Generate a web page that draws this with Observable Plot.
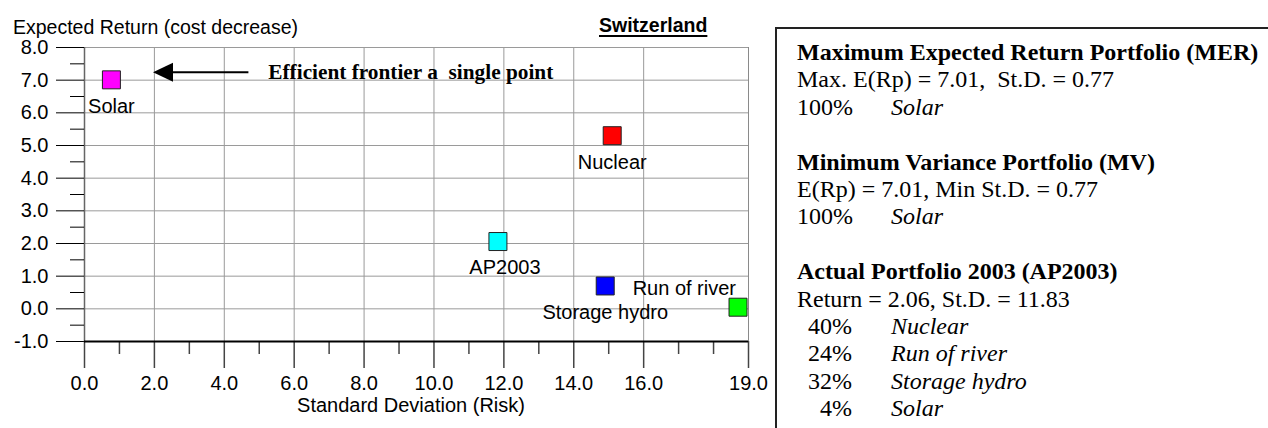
<!DOCTYPE html>
<html>
<head>
<meta charset="utf-8">
<script src="https://cdn.jsdelivr.net/npm/d3@7"></script>
<script src="https://cdn.jsdelivr.net/npm/@observablehq/plot@0.6"></script>
<style>
  html, body { margin: 0; padding: 0; background: white; }
  #wrap { position: relative; width: 1268px; height: 428px; overflow: hidden; background: white; }
  #chart { position: absolute; left: 0; top: 0; }
  .sans { font-family: "Liberation Sans", Arial, sans-serif; color: #000; position: absolute; white-space: pre; }
  #ytitle { left: 13px; top: 17px; font-size: 19.5px; line-height: 20px; }
  #country { left: 599px; top: 15px; font-size: 19.5px; line-height: 20px; font-weight: bold; text-decoration: underline; text-decoration-thickness: 2px; text-underline-offset: 3px; }
  #xtitle { left: 0; width: 822px; text-align: center; top: 395px; font-size: 20px; line-height: 20px; }
  #box { position: absolute; left: 775px; top: 27px; width: 520px; height: 420px; border-top: 2px solid #222; border-left: 2px solid #222; box-sizing: border-box; padding-left: 20px; padding-top: 10px; font-family: "Liberation Serif", "Times New Roman", serif; font-size: 24px; color: #000; }
  #box .ln { height: 27.4px; line-height: 27.4px; white-space: pre; }
  #box .hd { font-weight: bold; }
  #box .pc { display: inline-block; width: 55px; text-align: right; }
  #box .nm { font-style: italic; margin-left: 39px; }
</style>
</head>
<body>
<div id="wrap">
  <div id="chart"></div>
  <div class="sans" id="ytitle">Expected Return (cost decrease)</div>
  <div class="sans" id="country">Switzerland</div>
  <div class="sans" id="xtitle">Standard Deviation (Risk)</div>
  <div id="box"></div>
</div>
<script>
// ---- data ----
const technologies = ["Solar", "Nuclear", "AP2003", "Storage hydro", "Run of river"];
const stdDev       = [0.77, 15.1, 11.83, 14.9, 18.7];
const expReturn    = [7.01, 5.3, 2.06, 0.70, 0.05];

const xMajorTicks = [0, 2, 4, 6, 8, 10, 12, 14, 16, 19];
const xMinorTicks = [1, 3, 5, 7, 9, 11, 13, 15, 17, 18];
const xGridLines  = [2, 4, 6, 8, 10, 12, 14, 16];
const yMajorTicks = [-1, 0, 1, 2, 3, 4, 5, 6, 7, 8];
const yMinorTicks = [-0.5, 0.5, 1.5, 2.5, 3.5, 4.5, 5.5, 6.5, 7.5];

const noteText  = ["Efficient frontier a\u00a0 single point"];
const noteAt    = [5.26, 7.24];
const arrowFrom = [4.69, 7.24];
const arrowTo   = [1.96, 7.24];

const merTitle = "Maximum Expected Return Portfolio (MER)";
const merLine  = "Max. E(Rp) = 7.01,  St.D. = 0.77";
const merMix   = [["100%", "Solar"]];
const mvTitle  = "Minimum Variance Portfolio (MV)";
const mvLine   = "E(Rp) = 7.01, Min St.D. = 0.77";
const mvMix    = [["100%", "Solar"]];
const apTitle  = "Actual Portfolio 2003 (AP2003)";
const apLine   = "Return = 2.06, St.D. = 11.83";
const apMix    = [["40%", "Nuclear"], ["24%", "Run of river"], ["32%", "Storage hydro"], ["4%", "Solar"]];

// ---- build ----
const points = technologies.map((name, i) => ({name, x: stdDev[i], y: expReturn[i]}));
const below = points.filter(d => d.name !== "Run of river" && d.name !== "AP2003");
const fmt1 = d => d.toFixed(1);

const arrowHead = {
  draw(ctx) {
    ctx.moveTo(0, 0);
    ctx.lineTo(20, -9.5);
    ctx.lineTo(20, 9.5);
    ctx.closePath();
  }
};

const chart = Plot.plot({
  width: 1268,
  height: 428,
  marginLeft: 84,
  marginRight: 520,
  marginTop: 47,
  marginBottom: 87,
  style: {fontFamily: "'Liberation Sans', Arial, sans-serif", fontSize: "20px", background: "white", color: "black", overflow: "visible"},
  x: {domain: [0, 19]},
  y: {domain: [-1, 8]},
  color: {domain: technologies, range: ["#ff00ff", "#ff0000", "#00ffff", "#0000ff", "#00ff00"]},
  marks: [
    Plot.gridX(xGridLines, {stroke: "#9a9a9a", strokeOpacity: 1, strokeWidth: 1}),
    Plot.gridY(yMajorTicks.filter(d => d > -1), {stroke: "#9a9a9a", strokeOpacity: 1, strokeWidth: 1}),
    Plot.ruleX([19], {stroke: "#8a8a8a", strokeWidth: 1}),
    Plot.ruleX([0], {stroke: "#666", strokeWidth: 1.5}),
    Plot.axisY(yMajorTicks, {tickSize: 28, tickPadding: 8, tickFormat: fmt1, label: null, stroke: "black", fill: "black", fontSize: 20}),
    Plot.axisY(yMinorTicks, {tickSize: 14, tickFormat: () => "", label: null, stroke: "black"}),
    Plot.axisX(xMajorTicks, {tickSize: 27, tickPadding: 7, tickFormat: fmt1, label: null, stroke: "#444", strokeWidth: 1.5, fill: "black", fontSize: 20}),
    Plot.axisX(xMinorTicks, {tickSize: 13, tickFormat: () => "", label: null, stroke: "#444", strokeWidth: 1.5}),
    Plot.ruleY([-1], {stroke: "black", strokeWidth: 2}),
    // annotation arrow
    Plot.link([0], {x1: () => arrowFrom[0], y1: () => arrowFrom[1], x2: () => arrowTo[0] + 0.3, y2: () => arrowTo[1], stroke: "black", strokeWidth: 2}),
    Plot.dot([0], {x: () => arrowTo[0], y: () => arrowTo[1], symbol: arrowHead, fill: "black", stroke: "none"}),
    Plot.text(noteText, {x: () => noteAt[0], y: () => noteAt[1], text: d => d, textAnchor: "start", lineAnchor: "middle", fontFamily: "'Liberation Serif', 'Times New Roman', serif", fontWeight: "bold", fontSize: 21.3, fill: "black"}),
    // points
    Plot.dot(points, {x: "x", y: "y", fill: "name", symbol: "square", r: 10.15, stroke: "#222", strokeWidth: 1}),
    // labels
    Plot.text(below, {x: "x", y: "y", text: "name", dy: 27, textAnchor: "middle", lineAnchor: "middle", fill: "black", fontSize: 20}),
    Plot.text(points.filter(d => d.name === "AP2003"), {x: "x", y: "y", text: "name", dx: 7, dy: 26, textAnchor: "middle", lineAnchor: "middle", fill: "black", fontSize: 20}),
    Plot.text(points.filter(d => d.name === "Run of river"), {x: "x", y: "y", text: "name", dx: -2, dy: -19, textAnchor: "end", lineAnchor: "middle", fill: "black", fontSize: 20})
  ]
});
document.getElementById("chart").appendChild(chart);

// ---- text box ----
const box = document.getElementById("box");
function line(cls, text) {
  const d = document.createElement("div");
  d.className = "ln" + (cls ? " " + cls : "");
  d.textContent = text;
  box.appendChild(d);
}
function mix(rows) {
  rows.forEach(([p, n]) => {
    const d = document.createElement("div");
    d.className = "ln";
    const a = document.createElement("span"); a.className = "pc"; a.textContent = p;
    const b = document.createElement("span"); b.className = "nm"; b.textContent = n;
    d.appendChild(a); d.appendChild(b);
    box.appendChild(d);
  });
}
line("hd", merTitle); line("", merLine); mix(merMix); line("", " ");
line("hd", mvTitle); line("", mvLine); mix(mvMix); line("", " ");
line("hd", apTitle); line("", apLine); mix(apMix);
</script>
</body>
</html>
